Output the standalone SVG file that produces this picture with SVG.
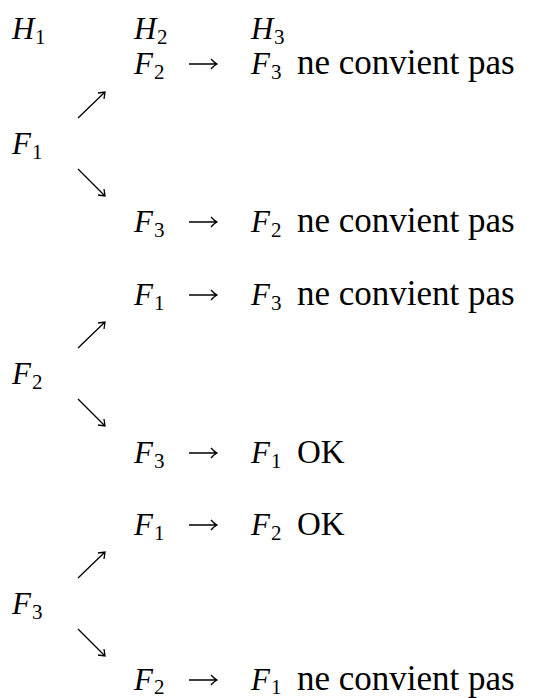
<svg xmlns="http://www.w3.org/2000/svg" width="536" height="698" viewBox="0 0 536 698">
<g id="headers">
<text x="12" y="39" font-family="Liberation Serif" font-style="italic" font-size="31">H</text><text x="35" y="44" font-family="Liberation Serif" font-size="21">1</text>
<text x="134" y="39" font-family="Liberation Serif" font-style="italic" font-size="31">H</text><text x="157" y="44" font-family="Liberation Serif" font-size="21">2</text>
<text x="251" y="39" font-family="Liberation Serif" font-style="italic" font-size="31">H</text><text x="274" y="44" font-family="Liberation Serif" font-size="21">3</text>
</g>
<g id="n-f1"><text x="12" y="154" font-family="Liberation Serif" font-style="italic" font-size="31">F</text><text x="32" y="159" font-family="Liberation Serif" font-size="21">1</text></g>
<g id="n-r1"><text x="134" y="74" font-family="Liberation Serif" font-style="italic" font-size="31">F</text><text x="154" y="79" font-family="Liberation Serif" font-size="21">2</text><text x="251" y="74" font-family="Liberation Serif" font-style="italic" font-size="31">F</text><text x="271" y="79" font-family="Liberation Serif" font-size="21">3</text><text x="297" y="74" font-family="Liberation Serif" font-size="35">ne convient pas</text></g>
<g id="n-r2"><text x="134" y="232" font-family="Liberation Serif" font-style="italic" font-size="31">F</text><text x="154" y="237" font-family="Liberation Serif" font-size="21">3</text><text x="251" y="232" font-family="Liberation Serif" font-style="italic" font-size="31">F</text><text x="271" y="237" font-family="Liberation Serif" font-size="21">2</text><text x="297" y="232" font-family="Liberation Serif" font-size="35">ne convient pas</text></g>
<g id="n-f2"><text x="12" y="384" font-family="Liberation Serif" font-style="italic" font-size="31">F</text><text x="32" y="389" font-family="Liberation Serif" font-size="21">2</text></g>
<g id="n-r3"><text x="134" y="305" font-family="Liberation Serif" font-style="italic" font-size="31">F</text><text x="154" y="310" font-family="Liberation Serif" font-size="21">1</text><text x="251" y="305" font-family="Liberation Serif" font-style="italic" font-size="31">F</text><text x="271" y="310" font-family="Liberation Serif" font-size="21">3</text><text x="297" y="305" font-family="Liberation Serif" font-size="35">ne convient pas</text></g>
<g id="n-r4"><text x="134" y="463" font-family="Liberation Serif" font-style="italic" font-size="31">F</text><text x="154" y="468" font-family="Liberation Serif" font-size="21">3</text><text x="251" y="463" font-family="Liberation Serif" font-style="italic" font-size="31">F</text><text x="271" y="468" font-family="Liberation Serif" font-size="21">1</text><text x="297" y="463" font-family="Liberation Serif" font-size="33">OK</text></g>
<g id="n-f3"><text x="12" y="614" font-family="Liberation Serif" font-style="italic" font-size="31">F</text><text x="32" y="619" font-family="Liberation Serif" font-size="21">3</text></g>
<g id="n-r5"><text x="134" y="535" font-family="Liberation Serif" font-style="italic" font-size="31">F</text><text x="154" y="540" font-family="Liberation Serif" font-size="21">1</text><text x="251" y="535" font-family="Liberation Serif" font-style="italic" font-size="31">F</text><text x="271" y="540" font-family="Liberation Serif" font-size="21">2</text><text x="297" y="535" font-family="Liberation Serif" font-size="33">OK</text></g>
<g id="n-r6"><text x="134" y="690" font-family="Liberation Serif" font-style="italic" font-size="31">F</text><text x="154" y="694" font-family="Liberation Serif" font-size="21">2</text><text x="251" y="690" font-family="Liberation Serif" font-style="italic" font-size="31">F</text><text x="271" y="694" font-family="Liberation Serif" font-size="21">1</text><text x="297" y="690" font-family="Liberation Serif" font-size="35">ne convient pas</text></g>
<g id="connectors" stroke="#000" stroke-width="1.3" fill="none">
<path d="M78,118 L105,92 M98,93 L105,92 L104,99"/>
<path d="M78,169 L105,196 M104,189 L105,196 L98,195"/>
<path d="M78,348 L105,322 M98,323 L105,322 L104,329"/>
<path d="M78,399 L105,426 M104,419 L105,426 L98,425"/>
<path d="M78,578 L105,552 M98,553 L105,552 L104,559"/>
<path d="M78,629 L105,656 M104,649 L105,656 L98,655"/>
<path d="M189,64 L217,64 M211,59 Q214,62.5 217,64 Q214,65.5 211,69"/>
<path d="M189,222 L217,222 M211,217 Q214,220.5 217,222 Q214,223.5 211,227"/>
<path d="M189,295 L217,295 M211,290 Q214,293.5 217,295 Q214,296.5 211,300"/>
<path d="M189,453 L217,453 M211,448 Q214,451.5 217,453 Q214,454.5 211,458"/>
<path d="M189,525 L217,525 M211,520 Q214,523.5 217,525 Q214,526.5 211,530"/>
<path d="M189,680 L217,680 M211,675 Q214,678.5 217,680 Q214,681.5 211,685"/>
</g>
</svg>
